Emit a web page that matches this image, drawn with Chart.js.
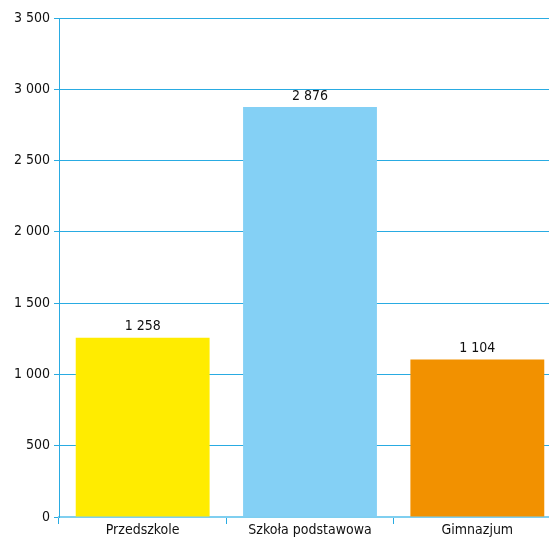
<!DOCTYPE html>
<html lang="pl">
<head>
  <meta charset="UTF-8">
  <title>Wykres</title>
  <script src="https://cdn.jsdelivr.net/npm/chart.js"></script>
  <style>
    html, body {
      margin: 0;
      padding: 0;
      background: #fff;
      overflow: hidden;
    }
    #wrap {
      width: 561px;
      height: 540px;
    }
  </style>
</head>
<body>
  <div id="wrap"><canvas id="chart" width="561" height="540"></canvas></div>

  <script>
    const categories = ["Przedszkole", "Szkoła podstawowa", "Gimnazjum"];
    const values = [1258, 2876, 1104];
    const barColors = ["#FFEC00", "#84D0F5", "#F29100"];
    const lineColor = "#29ABE2";
    const fontFamily = "'Liberation Sans Narrow', 'DejaVu Sans Condensed', Arial";

    function fmt(n) {
      return String(n).replace(/\B(?=(\d{3})+(?!\d))/g, " ");
    }

    // value labels above bars
    const valueLabels = {
      id: "valueLabels",
      afterDatasetsDraw(chart) {
        const ctx = chart.ctx;
        const meta = chart.getDatasetMeta(0);
        ctx.save();
        ctx.font = "14px " + fontFamily;
        ctx.fillStyle = "#111";
        ctx.textAlign = "center";
        ctx.textBaseline = "bottom";
        meta.data.forEach((bar, i) => {
          ctx.fillText(fmt(values[i]), bar.x, bar.y - 4);
        });
        ctx.restore();
      }
    };

    new Chart(document.getElementById("chart"), {
      type: "bar",
      data: {
        labels: categories,
        datasets: [{
          data: values,
          backgroundColor: barColors,
          borderWidth: 0,
          barPercentage: 0.8,
          categoryPercentage: 1
        }]
      },
      options: {
        responsive: false,
        animation: false,
        layout: { padding: { top: 18, left: 0, right: 0, bottom: 0 } },
        plugins: {
          legend: { display: false },
          tooltip: { enabled: false }
        },
        scales: {
          x: {
            offset: true,
            grid: {
              offset: true,
              drawOnChartArea: false,
              drawTicks: true,
              tickLength: 7,
              color: lineColor
            },
            border: { color: "#7FCFF0", width: 2 },
            ticks: {
              color: "#111",
              font: { family: fontFamily, size: 14 },
              padding: -2
            },
            afterFit(scale) { scale.height = 23; }
          },
          y: {
            min: 0,
            max: 3500,
            ticks: {
              stepSize: 500,
              color: "#111",
              font: { family: fontFamily, size: 14 },
              padding: 4,
              callback: v => fmt(v)
            },
            grid: {
              color: lineColor,
              tickLength: 5
            },
            border: { color: lineColor },
            afterFit(scale) { scale.width = 59; }
          }
        }
      },
      plugins: [valueLabels]
    });
  </script>
</body>
</html>
